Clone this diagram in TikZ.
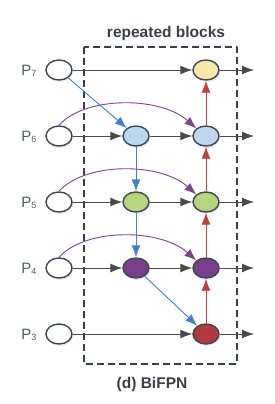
\documentclass[tikz,border=0pt]{standalone}
\usepackage{fontspec}
\setmainfont{Liberation Sans}
\usetikzlibrary{arrows.meta,shapes.geometric,shadows}

\definecolor{nodeline}{HTML}{3C4450}
\definecolor{edgegray}{HTML}{4A4A4A}
\definecolor{boxgray}{HTML}{3A3F47}
\definecolor{labelgray}{HTML}{555A60}
\definecolor{fillyellow}{HTML}{FAE8AA}
\definecolor{fillblue}{HTML}{BDD7EE}
\definecolor{fillgreen}{HTML}{B6D67E}
\definecolor{fillpurple}{HTML}{7A3F8C}
\definecolor{fillred}{HTML}{B23A3E}
\definecolor{tdblue}{HTML}{3F7FCB}
\definecolor{skippurple}{HTML}{7E4290}
\definecolor{bured}{HTML}{C43C40}

\newcommand{\plevel}[1]{P\raisebox{-0.2ex}{\fontsize{9}{9}\selectfont #1}}

\begin{document}
\begin{tikzpicture}[x=1pt, y=-1pt, line join=round,
    feat/.style={ellipse, draw=nodeline, line width=1.4pt, minimum width=26pt,
      minimum height=20pt, inner sep=0pt,
      drop shadow={opacity=0.18, shadow xshift=1pt, shadow yshift=-2pt}},
    flow/.style={draw=edgegray, line width=0.9pt, -{Latex[length=12pt,width=9pt]}},
    topdown/.style={flow, draw=tdblue},
    bottomup/.style={flow, draw=bured},
    skip/.style={flow, draw=skippurple},
    level/.style={anchor=east, text=labelgray, font=\fontsize{15}{15}\selectfont},
    caption/.style={text=boxgray, font=\bfseries\fontsize{15.5}{16}\selectfont}]
  \useasboundingbox (0,0) rectangle (274,404);
  % --- repeated block frame ------------------------------------------
  \draw[boxgray, line width=1.4pt, dash pattern=on 7pt off 4pt] (84,47) rectangle (237,364);
  \node[caption] (title) at (166,33) {repeated blocks};
  \node[caption] (name) at (152,384) {(d) BiFPN};
  % --- input features --------------------------------------------------
  \node[feat, fill=white] (in7) at (59,70) {};
  \node[feat, fill=white] (in6) at (59,136) {};
  \node[feat, fill=white] (in5) at (59,202) {};
  \node[feat, fill=white] (in4) at (59,268) {};
  \node[feat, fill=white] (in3) at (59,334) {};
  \node[level] (p7) at (40,71) {\plevel{7}};
  \node[level] (p6) at (40,137) {\plevel{6}};
  \node[level] (p5) at (40,203) {\plevel{5}};
  \node[level] (p4) at (40,269) {\plevel{4}};
  \node[level] (p3) at (40,335) {\plevel{3}};
  % --- intermediate (top-down) features --------------------------------
  \node[feat, fill=fillblue] (mid6) at (136,136) {};
  \node[feat, fill=fillgreen] (mid5) at (136,202) {};
  \node[feat, fill=fillpurple] (mid4) at (136,268) {};
  % --- output (bottom-up) features -------------------------------------
  \node[feat, fill=fillyellow] (out7) at (206,70) {};
  \node[feat, fill=fillblue] (out6) at (206,136) {};
  \node[feat, fill=fillgreen] (out5) at (206,202) {};
  \node[feat, fill=fillpurple] (out4) at (206,268) {};
  \node[feat, fill=fillred] (out3) at (206,334) {};
  \coordinate (end7) at (254,70);
  \coordinate (end6) at (254,136);
  \coordinate (end5) at (254,202);
  \coordinate (end4) at (254,268);
  \coordinate (end3) at (254,334);
  % --- lateral connections ---------------------------------------------
  \draw[flow] (in7) -- (out7);
  \draw[flow] (in6) -- (mid6);
  \draw[flow] (mid6) -- (out6);
  \draw[flow] (in5) -- (mid5);
  \draw[flow] (mid5) -- (out5);
  \draw[flow] (in4) -- (mid4);
  \draw[flow] (mid4) -- (out4);
  \draw[flow] (in3) -- (out3);
  \draw[flow] (out7) -- (end7);
  \draw[flow] (out6) -- (end6);
  \draw[flow] (out5) -- (end5);
  \draw[flow] (out4) -- (end4);
  \draw[flow] (out3) -- (end3);
  % --- top-down path ---------------------------------------------------
  \draw[topdown] (in7) -- (mid6);
  \draw[topdown] (mid6) -- (mid5);
  \draw[topdown] (mid5) -- (mid4);
  \draw[topdown] (mid4) -- (out3);
  % --- bottom-up path --------------------------------------------------
  \draw[bottomup] (out3) -- (out4);
  \draw[bottomup] (out4) -- (out5);
  \draw[bottomup] (out5) -- (out6);
  \draw[bottomup] (out6) -- (out7);
  % --- skip connections ------------------------------------------------
  \draw[skip] (in6.north) .. controls (85,96) and (160,96) .. (out6.north west);
  \draw[skip] (in5.north) .. controls (85,162) and (160,162) .. (out5.north west);
  \draw[skip] (in4.north) .. controls (85,228) and (160,228) .. (out4.north west);
\end{tikzpicture}
\end{document}
